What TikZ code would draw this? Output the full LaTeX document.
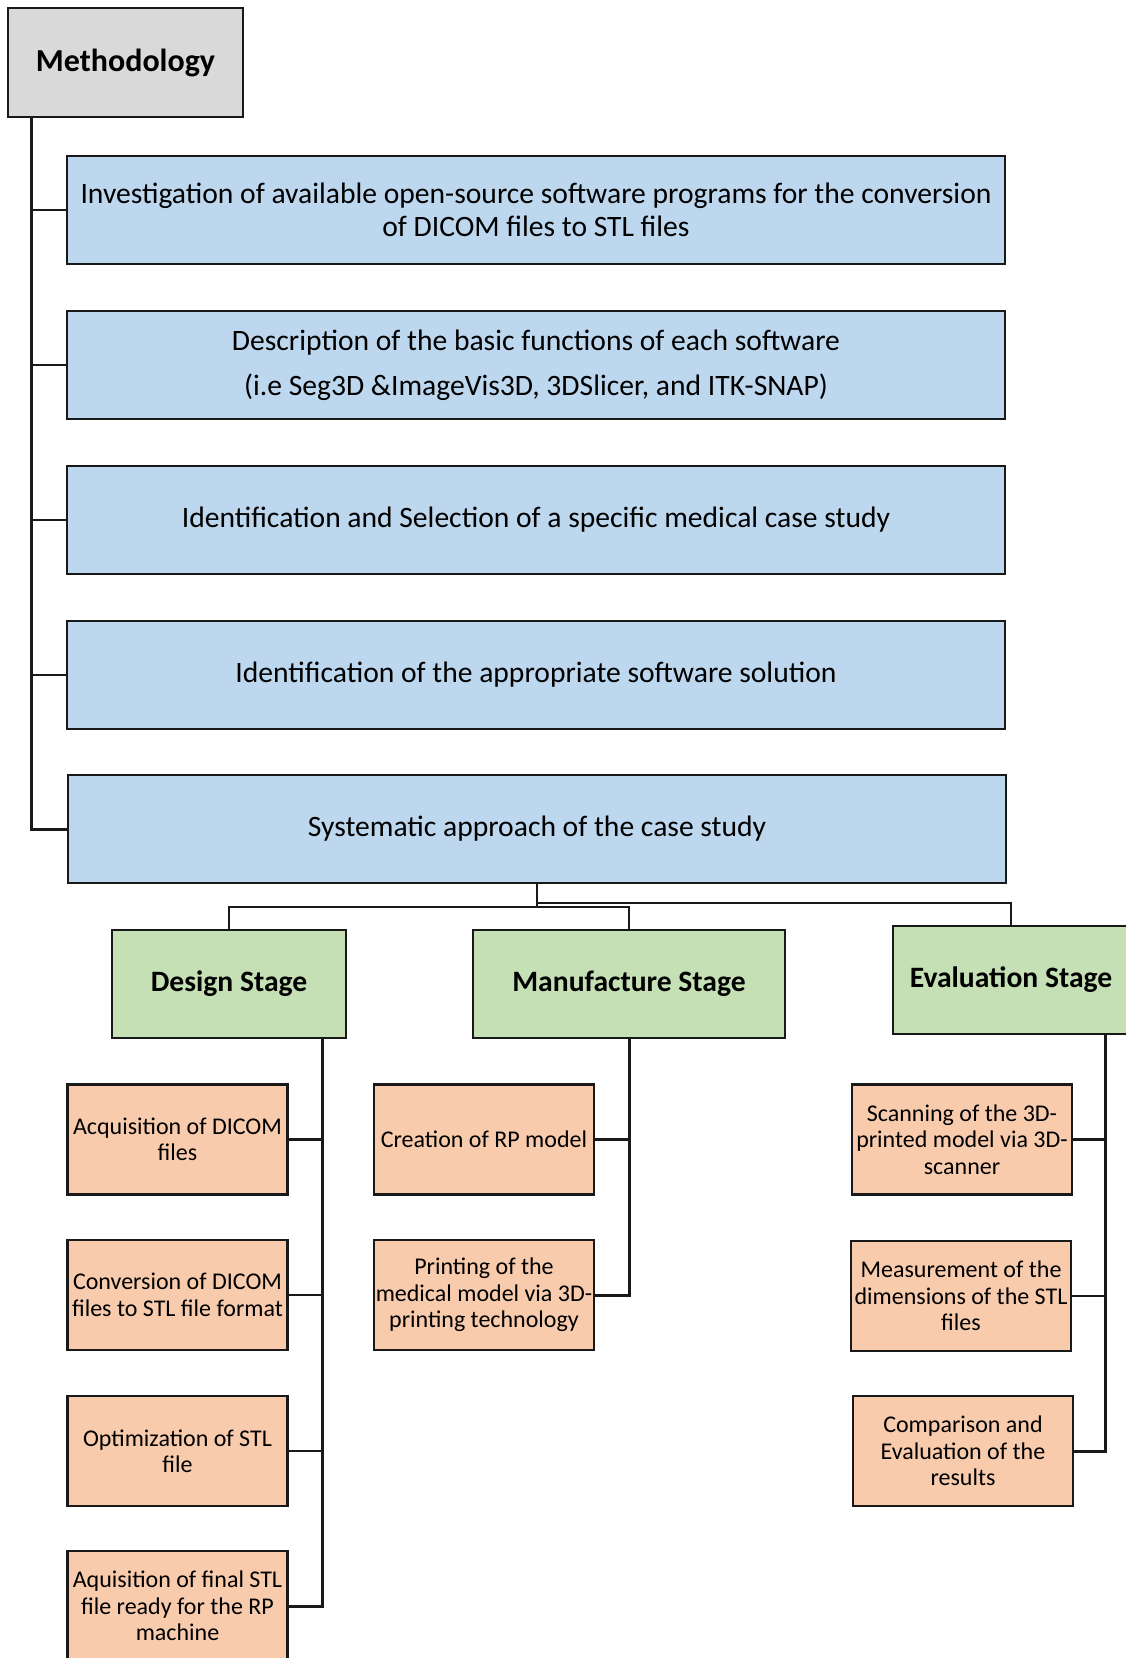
\documentclass[tikz,border=0pt]{standalone}
\usepackage{fontspec}
\setmainfont{Carlito}
\definecolor{mgray}{HTML}{D9D9D9}
\definecolor{mblue}{HTML}{BDD7EE}
\definecolor{mgreen}{HTML}{C5E0B4}
\definecolor{morange}{HTML}{F8CBAD}
\begin{document}
\begin{tikzpicture}[x=1pt,y=-1pt,
  box/.style={draw=black!90,line width=2.5pt,inner sep=0pt,align=center,text=black},
  methbox/.style={box,fill=mgray,minimum width=235pt,minimum height=109pt,font=\fontsize{32}{38}\selectfont\bfseries},
  bluebox/.style={box,fill=mblue,minimum width=938pt,minimum height=108pt,font=\fontsize{29.6}{33}\selectfont},
  stagebox/.style={box,fill=mgreen,minimum height=108pt,font=\fontsize{29.6}{34}\selectfont\bfseries},
  orbox/.style={box,fill=morange,minimum width=220pt,minimum height=110pt,font=\fontsize{24}{26.4}\selectfont},
  trunk/.style={line width=3pt,draw=black!90},
  branch/.style={line width=2.2pt,draw=black!90}]
\useasboundingbox (0,0) rectangle (1126,1658);

\node[methbox] (meth) at (125.5,62.5) {Methodology};

\node[bluebox] (b1) at (536,210) {Investigation of available open-source software programs for the conversion\\of DICOM files to STL files};
\node[bluebox] (b2) at (536,365) {Description of the basic functions of each software\\[12pt](i.e Seg3D \&ImageVis3D, 3DSlicer, and ITK-SNAP)};
\node[bluebox] (b3) at (536,520) {Identification and Selection of a specific medical case study};
\node[bluebox] (b4) at (536,675) {Identification of the appropriate software solution};
\node[bluebox,minimum width=938pt] (b5) at (537,829) {Systematic approach of the case study};

\node[stagebox,minimum width=234pt] (design) at (229,984) {Design Stage};
\node[stagebox,minimum width=312pt] (manuf) at (629,984) {Manufacture Stage};
\node[stagebox,minimum width=236pt] (eval) at (1011,980) {Evaluation Stage};

\node[orbox] (d1) at (177.5,1139.5) {Acquisition of DICOM\\files};
\node[orbox] (d2) at (177.5,1295) {Conversion of DICOM\\files to STL file format};
\node[orbox] (d3) at (177.5,1451) {Optimization of STL\\file};
\node[orbox] (d4) at (177.5,1606) {Aquisition of final STL\\file ready for the RP\\machine};

\node[orbox] (m1) at (484,1139.5) {Creation of RP model};
\node[orbox] (m2) at (484,1295) {Printing of the\\medical model via 3D-\\printing technology};

\node[orbox] (e1) at (962,1139.5) {Scanning of the 3D-\\printed model via 3D-\\scanner};
\node[orbox] (e2) at (961,1296) {Measurement of the\\dimensions of the STL\\files};
\node[orbox] (e3) at (963,1451) {Comparison and\\Evaluation of the\\results};

% main trunk
\coordinate (mt) at ([xshift=25pt]meth.south west);
\draw[trunk] (mt) |- (b5.west);
\foreach \b in {b1,b2,b3,b4}{\draw[branch] (mt |- \b.west) -- (\b.west);}

% stage connectors
\draw[branch] (b5.south) -- ++(0,23) -| (design.north);
\draw[branch] (b5.south) ++(0,23) -| (manuf.north);
\draw[branch] (b5.south) -- ++(0,19) -| (eval.north);

% design trunk
\coordinate (dt) at ([xshift=-25pt]design.south east);
\draw[trunk] (dt) |- (d4.east);
\foreach \b in {d1,d2,d3}{\draw[branch] (dt |- \b.east) -- (\b.east);}

% manufacture trunk
\draw[trunk] (manuf.south) |- (m2.east);
\draw[branch] (manuf.south |- m1.east) -- (m1.east);

% evaluation trunk
\coordinate (et) at ([xshift=-25pt]eval.south east);
\draw[trunk] (et) |- (e3.east);
\foreach \b in {e1,e2}{\draw[branch] (et |- \b.east) -- (\b.east);}
\end{tikzpicture}
\end{document}
